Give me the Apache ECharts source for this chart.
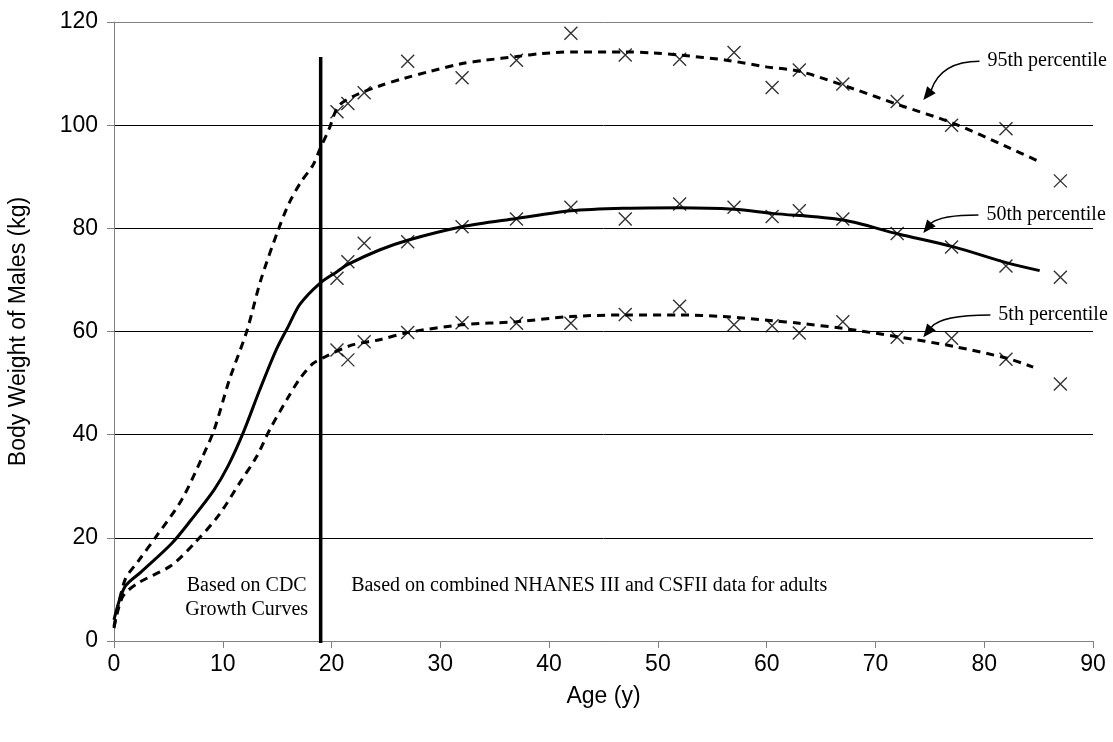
<!DOCTYPE html>
<html>
<head>
<meta charset="utf-8">
<script src="https://cdn.jsdelivr.net/npm/echarts@6/dist/echarts.min.js"></script>
<style>
  html, body { margin: 0; padding: 0; background: #fff; }
  #chart { width: 1113px; height: 742px; }
</style>
</head>
<body>
<div id="chart"></div>
<script>
// NHANES III / CSFII age groups (midpoints, years) and observed body weights (kg)
var adultAges = [20.5, 21.5, 23, 27, 32, 37, 42, 47, 52, 57, 60.5, 63, 67, 72, 77, 82, 87];
var p95Obs = [102.6, 104.2, 106.3, 112.4, 109.2, 112.6, 117.8, 113.6, 112.8, 114.1, 107.3, 110.7, 108.0, 104.6, 100.0, 99.3, 89.2];
var p50Obs = [70.3, 73.5, 77.1, 77.4, 80.3, 81.8, 84.1, 81.8, 84.7, 84.1, 82.3, 83.4, 81.8, 79.0, 76.4, 72.7, 70.5];
var p5Obs  = [56.4, 54.5, 58.0, 59.8, 61.7, 61.6, 61.6, 63.3, 64.9, 61.3, 61.1, 59.7, 61.9, 58.9, 58.7, 54.6, 49.8];

// fitted curves: CDC growth curves (0-19 y) joined to adult fits
var p95Curve = [[0, 2.8], [1, 11.8], [2.2, 15.4], [4, 20.6], [6.2, 27.3], [8, 35.1], [9.2, 40.9], [10.6, 50.6],
  [12.2, 60.0], [13.5, 70.0], [15.1, 79.7], [16.1, 84.9], [17.1, 88.7], [18.3, 92.3], [18.9, 95.2], [19.8, 99.4],
  [20.6, 103.6], [22, 105.6], [24.4, 107.6], [26.7, 109.1], [29, 110.4], [31.9, 111.9], [34.2, 112.6], [37, 113.3],
  [39.4, 113.9], [42.2, 114.2], [47, 114.2], [49.6, 114.0], [52, 113.6], [56.3, 112.6], [60, 111.3], [63.1, 110.4],
  [67.9, 107.1], [72.2, 103.9], [77.1, 100.4], [82.1, 95.8], [85.1, 92.9]];
var p50Curve = [[0, 4.1], [1, 10.5], [2.5, 13.4], [5.3, 18.9], [7.1, 23.5], [9.2, 29.3], [10.5, 34.0], [11.9, 40.5],
  [13.4, 48.7], [14.9, 56.4], [16.0, 60.9], [17.1, 65.3], [18.9, 69.3], [20.5, 71.6], [21.5, 73.0], [24.4, 75.8],
  [27, 77.7], [32, 80.3], [37, 81.9], [42, 83.4], [47, 83.9], [52, 84.0], [57, 83.7], [60.5, 82.9], [67, 81.6],
  [72.1, 78.9], [77.2, 76.4], [82.1, 73.3], [85.1, 71.8]];
var p5Curve = [[0, 2.5], [0.8, 8.6], [2.2, 11.2], [5.3, 14.7], [7.5, 19.2], [9.6, 24.3], [11.6, 30.8], [13.1, 35.7],
  [14.3, 40.9], [16.0, 47.2], [17.1, 50.9], [18.3, 53.8], [19.4, 55.1], [21.9, 57.4], [24.4, 58.4], [27, 59.8],
  [32, 61.3], [37, 61.9], [42, 62.9], [47, 63.2], [52, 63.2], [56, 62.9], [60.5, 62.1], [63, 61.6], [67, 60.6],
  [72, 59.0], [77.2, 57.1], [82.1, 54.8], [84.5, 53.1]];

// boundary between the CDC and the NHANES/CSFII based parts
var dividerAge = 19;
var dividerSpan = [-0.4, 113.2];

var SANS = '"Liberation Sans", Arial, sans-serif';
var SERIF = '"Liberation Serif", "Times New Roman", serif';
var crossPath = 'path://M0,0L10,10M10,0L0,10';

var chart = echarts.init(document.getElementById('chart'));

function pairs(xs, ys) {
  return xs.map(function (x, i) { return [x, ys[i]]; });
}

function curve(data, dashed) {
  return {
    type: 'line',
    data: data,
    smooth: 0.3,
    showSymbol: false,
    silent: true,
    z: 3,
    lineStyle: { color: '#000', width: 3, type: dashed ? [8, 6] : 'solid' }
  };
}

function crosses(data) {
  return {
    type: 'scatter',
    data: data,
    symbol: crossPath,
    symbolSize: 13,
    silent: true,
    z: 4,
    itemStyle: { color: 'none', borderColor: '#000', borderWidth: 1.4 }
  };
}

var option = {
  backgroundColor: '#fff',
  animation: false,
  grid: { left: 114, right: 20, top: 22, bottom: 101, outerBoundsMode: 'none', containLabel: false },
  xAxis: {
    type: 'value',
    min: 0, max: 90, interval: 10,
    name: 'Age (y)',
    nameLocation: 'middle',
    nameGap: 44,
    nameTextStyle: { fontFamily: SANS, fontSize: 23, color: '#000' },
    axisLine: { lineStyle: { color: '#808080', width: 1 } },
    axisTick: { length: 7, lineStyle: { color: '#808080' } },
    axisLabel: { fontFamily: SANS, fontSize: 23, color: '#000', margin: 12 },
    splitLine: { show: false }
  },
  yAxis: {
    type: 'value',
    min: 0, max: 120, interval: 20,
    name: 'Body Weight of Males (kg)',
    nameLocation: 'middle',
    nameGap: 84,
    nameTextStyle: { fontFamily: SANS, fontSize: 23, color: '#000' },
    axisLine: { show: true, lineStyle: { color: '#808080', width: 1 } },
    axisTick: { show: true, length: 7, lineStyle: { color: '#808080' } },
    axisLabel: { fontFamily: SANS, fontSize: 23, color: '#000', margin: 16 },
    splitLine: { show: true, lineStyle: { color: ['#000', '#000', '#000', '#000', '#000', '#000', '#808080'], width: 1 } }
  },
  series: [
    curve(p95Curve, true),
    curve(p50Curve, false),
    curve(p5Curve, true),
    crosses(pairs(adultAges, p95Obs)),
    crosses(pairs(adultAges, p50Obs)),
    crosses(pairs(adultAges, p5Obs)),
    {
      type: 'line',
      data: [[dividerAge, dividerSpan[0]], [dividerAge, dividerSpan[1]]],
      showSymbol: false,
      silent: true,
      clip: false,
      z: 5,
      lineStyle: { color: '#000', width: 3.5 }
    }
  ]
};

chart.setOption(option);

// annotations placed in data coordinates
var notes = [
  { text: 'Based on CDC', at: [12.2, 10.7], align: 'center' },
  { text: 'Growth Curves', at: [12.2, 6.1], align: 'center' },
  { text: 'Based on combined NHANES III and CSFII data for adults', at: [21.8, 10.7], align: 'left' }
];
var pointers = [
  { text: '95th percentile', label: [80.3, 112.4], tip: [74.4, 104.9] },
  { text: '50th percentile', label: [80.2, 82.6], tip: [74.4, 79.1] },
  { text: '5th percentile', label: [81.3, 63.2], tip: [74.4, 58.9] }
];

function px(p) { return chart.convertToPixel({ gridIndex: 0 }, p); }

var graphics = [];
notes.forEach(function (n) {
  var p = px(n.at);
  graphics.push({
    type: 'text', x: p[0], y: p[1], silent: true,
    style: { text: n.text, font: '20px ' + SERIF, fill: '#000', textAlign: n.align, textVerticalAlign: 'middle' }
  });
});
pointers.forEach(function (a) {
  var l = px(a.label), t = px(a.tip);
  graphics.push({
    type: 'text', x: l[0], y: l[1], silent: true,
    style: { text: a.text, font: '20px ' + SERIF, fill: '#000', textAlign: 'left', textVerticalAlign: 'middle' }
  });
  var sx = l[0] - 8, sy = l[1];
  var ex = t[0] + 8, ey = t[1] - 10;
  graphics.push({
    type: 'bezierCurve', silent: true,
    shape: { x1: sx, y1: sy, x2: ex, y2: ey, cpx1: ex + 10, cpy1: sy },
    style: { stroke: '#000', lineWidth: 1.5, fill: null }
  });
  var dx = t[0] - ex, dy = t[1] - ey, len = Math.sqrt(dx * dx + dy * dy);
  dx /= len; dy /= len;
  var bx = t[0] - dx * 13, by = t[1] - dy * 13;
  graphics.push({
    type: 'polygon', silent: true,
    shape: { points: [[t[0], t[1]], [bx - dy * 5.5, by + dx * 5.5], [bx + dy * 5.5, by - dx * 5.5]] },
    style: { fill: '#000' }
  });
});
chart.setOption({ graphic: graphics });
</script>
</body>
</html>
